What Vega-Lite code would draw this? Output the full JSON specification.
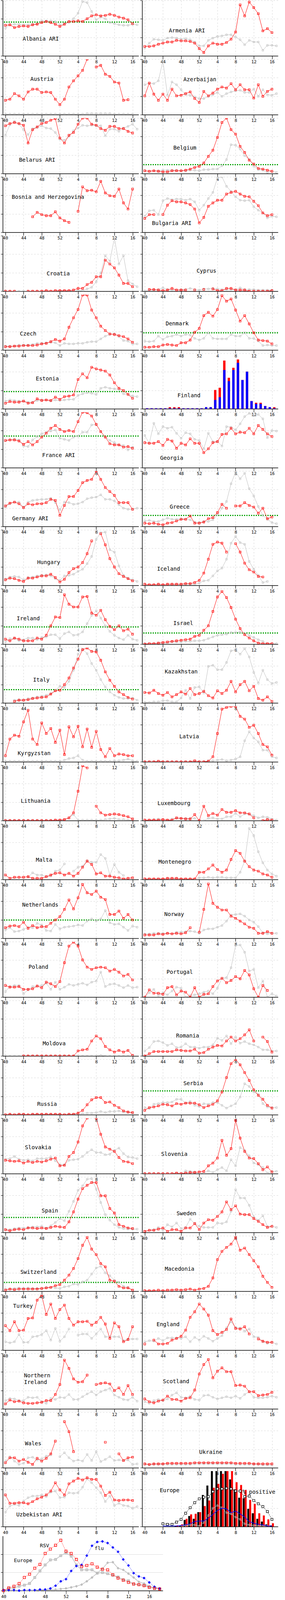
{
  "$schema": "https://vega.github.io/schema/vega-lite/v6.json",
  "padding": {"left": 1, "top": 0, "right": 0, "bottom": 0},
  "config": {
    "view": {"stroke": null},
    "font": "DejaVu Sans Mono",
    "header": {"labels": false, "title": null, "labelFontSize": 0, "labelPadding": 0, "titlePadding": 0},
    "axis": {"domainColor": "#000", "tickColor": "#000", "labelColor": "#000", "labelFont": "DejaVu Sans Mono", "labelFontSize": 11, "gridColor": "#d6d6d6", "gridDash": [4, 4]}
  },
  "vconcat": [
    {
      "data": {"values": [
        {"c":"AL","lx":3.8,"ly":30,"t":"Albania  ARI","th":61},
        {"c":"AM","lx":5.3,"ly":45,"t":"Armenia  ARI"},
        {"c":"AT","lx":5.5,"ly":64,"t":"Austria"},
        {"c":"AZ","lx":8.5,"ly":63,"t":"Azerbaijan"},
        {"c":"BY","lx":3,"ly":24,"t":"Belarus  ARI"},
        {"c":"BE","lx":6.3,"ly":46,"t":"Belgium","th":16},
        {"c":"BA","lx":1.4,"ly":63,"t":"Bosnia and Herzegovina"},
        {"c":"BG","lx":1.6,"ly":16,"t":"Bulgaria  ARI"},
        {"c":"HR","lx":9.1,"ly":31,"t":"Croatia"},
        {"c":"CY","lx":11.4,"ly":36,"t":"Cyprus"},
        {"c":"CZ","lx":3.2,"ly":29,"t":"Czech"},
        {"c":"DK","lx":4.6,"ly":47,"t":"Denmark","th":31},
        {"c":"EE","lx":6.7,"ly":54,"t":"Estonia","th":31},
        {"c":"FI","lx":7.2,"ly":24,"t":"Finland"},
        {"c":"FR","lx":8.1,"ly":22,"t":"France  ARI","th":57},
        {"c":"GE","lx":3.4,"ly":17,"t":"Georgia"},
        {"c":"DE","lx":1.5,"ly":14,"t":"Germany  ARI"},
        {"c":"GR","lx":5.5,"ly":35,"t":"Greece","th":20},
        {"c":"HU","lx":7,"ly":41,"t":"Hungary"},
        {"c":"IS","lx":2.7,"ly":29,"t":"Iceland"},
        {"c":"IE","lx":2.5,"ly":46,"t":"Ireland","th":31},
        {"c":"IL","lx":6.3,"ly":37,"t":"Israel","th":20},
        {"c":"IT","lx":6.1,"ly":41,"t":"Italy","th":24},
        {"c":"KZ","lx":4.4,"ly":56,"t":"Kazakhstan"},
        {"c":"KG","lx":2.7,"ly":15,"t":"Kyrgyzstan"},
        {"c":"LV","lx":7.6,"ly":45,"t":"Latvia"},
        {"c":"LT","lx":3.4,"ly":35,"t":"Lithuania"},
        {"c":"LU","lx":2.8,"ly":31,"t":"Luxembourg"},
        {"c":"MT","lx":6.7,"ly":35,"t":"Malta"},
        {"c":"ME","lx":3,"ly":31,"t":"Montenegro"},
        {"c":"NL","lx":3.7,"ly":60,"t":"Netherlands","th":33},
        {"c":"NO","lx":4.3,"ly":43,"t":"Norway"},
        {"c":"PL","lx":5.1,"ly":54,"t":"Poland"},
        {"c":"PT","lx":4.8,"ly":45,"t":"Portugal"},
        {"c":"MD","lx":8.2,"ly":22,"t":"Moldova"},
        {"c":"RO","lx":6.9,"ly":36,"t":"Romania"},
        {"c":"RU","lx":7,"ly":19,"t":"Russia"},
        {"c":"RS","lx":8.5,"ly":56,"t":"Serbia","th":43},
        {"c":"SK","lx":4.3,"ly":47,"t":"Slovakia"},
        {"c":"SI","lx":3.6,"ly":35,"t":"Slovenia"},
        {"c":"ES","lx":8,"ly":39,"t":"Spain","th":27},
        {"c":"SE","lx":7,"ly":34,"t":"Sweden"},
        {"c":"CH","lx":3.3,"ly":34,"t":"Switzerland","th":16},
        {"c":"MK","lx":4.4,"ly":40,"t":"Macedonia"},
        {"c":"TR","lx":1.7,"ly":79,"t":"Turkey"},
        {"c":"EN","lx":2.6,"ly":46,"t":"England"},
        {"c":"NI","lx":4.1,"ly":60,"t":"Northern\nIreland"},
        {"c":"SC","lx":4,"ly":49,"t":"Scotland"},
        {"c":"WA","lx":4.3,"ly":43,"t":"Wales"},
        {"c":"UA","lx":12,"ly":28,"t":"Ukraine"},
        {"c":"UZ","lx":2.4,"ly":21,"t":"Uzbekistan  ARI"},
        {"c":"EU","lx":3.3,"ly":65,"t":"Europe"},
        {"c":"EU","lx":21.5,"ly":62,"t":"% positive"},

        {"c":"AL","i":0,"r":55,"g":50},{"c":"AL","i":1,"r":56,"g":56},{"c":"AL","i":2,"r":51,"g":57},{"c":"AL","i":3,"r":53,"g":57},{"c":"AL","i":4,"r":54,"g":56},{"c":"AL","i":5,"r":53,"g":56},{"c":"AL","i":6,"r":56,"g":57},{"c":"AL","i":7,"r":57,"g":58},{"c":"AL","i":8,"r":60,"g":63},{"c":"AL","i":9,"r":62,"g":63},{"c":"AL","i":10,"r":60,"g":63},{"c":"AL","i":11,"r":57,"g":62},{"c":"AL","i":12,"r":53,"g":56},{"c":"AL","i":13,"r":57,"g":58},{"c":"AL","i":14,"r":62,"g":60},{"c":"AL","i":15,"r":62,"g":67},{"c":"AL","i":16,"r":63,"g":77},{"c":"AL","i":17,"r":62,"g":98},{"c":"AL","i":18,"r":67,"g":96},{"c":"AL","i":19,"r":72,"g":80},{"c":"AL","i":20,"r":74,"g":65},{"c":"AL","i":21,"r":72,"g":70},{"c":"AL","i":22,"r":73,"g":67},{"c":"AL","i":23,"r":75,"g":60},{"c":"AL","i":24,"r":73,"g":58},{"c":"AL","i":25,"r":70,"g":56},{"c":"AL","i":26,"r":68,"g":55},{"c":"AL","i":27,"r":65,"g":55},{"c":"AL","i":28,"r":58,"g":57},{"c":"AL","i":29,"g":56},

        {"c":"AM","i":0,"r":17,"g":14},{"c":"AM","i":1,"r":17,"g":23},{"c":"AM","i":2,"r":18,"g":30},{"c":"AM","i":3,"r":21,"g":29},{"c":"AM","i":4,"r":23,"g":28},{"c":"AM","i":5,"r":25,"g":32},{"c":"AM","i":6,"r":25,"g":33},{"c":"AM","i":7,"r":28,"g":32},{"c":"AM","i":8,"r":27,"g":30},{"c":"AM","i":9,"r":27,"g":31},{"c":"AM","i":10,"r":26,"g":29},{"c":"AM","i":11,"r":23,"g":25},{"c":"AM","i":12,"r":13,"g":18},{"c":"AM","i":13,"r":6,"g":18},{"c":"AM","i":14,"r":18,"g":28},{"c":"AM","i":15,"r":23,"g":32},{"c":"AM","i":16,"r":21,"g":35},{"c":"AM","i":17,"r":21,"g":36},{"c":"AM","i":18,"r":24,"g":38},{"c":"AM","i":19,"r":30,"g":38},{"c":"AM","i":20,"r":43,"g":34},{"c":"AM","i":21,"r":92,"g":29},{"c":"AM","i":22,"r":72,"g":20},{"c":"AM","i":23,"r":97,"g":28},{"c":"AM","i":24,"r":87,"g":25},{"c":"AM","i":25,"r":76,"g":25},{"c":"AM","i":26,"r":45,"g":10},{"c":"AM","i":27,"r":49,"g":19},{"c":"AM","i":28,"r":42,"g":19},{"c":"AM","i":29,"g":18},

        {"c":"AT","i":0,"r":26,"g":1},{"c":"AT","i":1,"r":28,"g":1},{"c":"AT","i":2,"r":38,"g":1},{"c":"AT","i":3,"r":34,"g":1},{"c":"AT","i":4,"r":28,"g":1},{"c":"AT","i":5,"r":41,"g":1},{"c":"AT","i":6,"r":46,"g":1},{"c":"AT","i":7,"r":46,"g":1},{"c":"AT","i":8,"r":40,"g":1},{"c":"AT","i":9,"r":41,"g":1},{"c":"AT","i":10,"r":40,"g":1},{"c":"AT","i":11,"r":28,"g":1},{"c":"AT","i":12,"r":18,"g":1},{"c":"AT","i":13,"r":28,"g":1},{"c":"AT","i":14,"r":50,"g":1},{"c":"AT","i":15,"r":61,"g":1},{"c":"AT","i":16,"r":70,"g":1},{"c":"AT","i":17,"r":80,"g":1},{"c":"AT","i":18,"r":100,"g":2},{"c":"AT","i":19,"g":2},{"c":"AT","i":20,"r":86,"g":2},{"c":"AT","i":21,"r":89,"g":2},{"c":"AT","i":22,"r":73,"g":2},{"c":"AT","i":23,"r":69,"g":2},{"c":"AT","i":24,"r":59,"g":1},{"c":"AT","i":25,"r":57,"g":1},{"c":"AT","i":26,"r":26,"g":1},{"c":"AT","i":27,"r":27,"g":1},{"c":"AT","i":28,"g":1},

        {"c":"AZ","i":0,"r":34,"g":54},{"c":"AZ","i":1,"r":57,"g":57},{"c":"AZ","i":2,"r":37,"g":56},{"c":"AZ","i":3,"r":26,"g":61},{"c":"AZ","i":4,"r":37,"g":97},{"c":"AZ","i":5,"r":26,"g":35},{"c":"AZ","i":6,"r":46,"g":59},{"c":"AZ","i":7,"r":34,"g":54},{"c":"AZ","i":8,"r":35,"g":45},{"c":"AZ","i":9,"r":38,"g":36},{"c":"AZ","i":10,"r":41,"g":35},{"c":"AZ","i":11,"r":29,"g":32},{"c":"AZ","i":12,"r":22,"g":29},{"c":"AZ","i":13,"r":42,"g":29},{"c":"AZ","i":14,"r":34,"g":33},{"c":"AZ","i":15,"r":39,"g":36},{"c":"AZ","i":16,"r":46,"g":40},{"c":"AZ","i":17,"r":50,"g":33},{"c":"AZ","i":18,"r":48,"g":38},{"c":"AZ","i":19,"r":56,"g":41},{"c":"AZ","i":20,"r":45,"g":43},{"c":"AZ","i":21,"r":54,"g":44},{"c":"AZ","i":22,"r":45,"g":40},{"c":"AZ","i":23,"r":45,"g":40},{"c":"AZ","i":24,"r":30,"g":46},{"c":"AZ","i":25,"r":54,"g":33},{"c":"AZ","i":26,"r":33,"g":45},{"c":"AZ","i":27,"r":42,"g":36},{"c":"AZ","i":28,"r":46,"g":35},{"c":"AZ","i":29,"g":38},

        {"c":"BY","i":0,"r":86,"g":69},{"c":"BY","i":1,"r":90,"g":88},{"c":"BY","i":2,"r":92,"g":94},{"c":"BY","i":3,"r":90,"g":89},{"c":"BY","i":4,"r":87,"g":79},{"c":"BY","i":5,"r":55,"g":70},{"c":"BY","i":6,"r":79,"g":81},{"c":"BY","i":7,"r":84,"g":83},{"c":"BY","i":8,"r":90,"g":86},{"c":"BY","i":9,"r":92,"g":82},{"c":"BY","i":10,"r":96,"g":81},{"c":"BY","i":11,"r":99,"g":74},{"c":"BY","i":12,"r":64,"g":62},{"c":"BY","i":13,"r":55,"g":60},{"c":"BY","i":14,"r":69,"g":67},{"c":"BY","i":15,"r":74,"g":77},{"c":"BY","i":16,"r":89,"g":82},{"c":"BY","i":17,"r":100,"g":87},{"c":"BY","i":18,"r":100,"g":86},{"c":"BY","i":19,"r":89,"g":87},{"c":"BY","i":20,"r":87,"g":86},{"c":"BY","i":21,"r":81,"g":86},{"c":"BY","i":22,"r":78,"g":68},{"c":"BY","i":23,"r":85,"g":80},{"c":"BY","i":24,"r":85,"g":80},{"c":"BY","i":25,"r":81,"g":76},{"c":"BY","i":26,"r":81,"g":82},{"c":"BY","i":27,"r":76,"g":85},{"c":"BY","i":28,"r":73,"g":89},{"c":"BY","i":29,"g":80},

        {"c":"BE","i":0,"r":5,"g":5},{"c":"BE","i":1,"r":4,"g":4},{"c":"BE","i":2,"r":5,"g":5},{"c":"BE","i":3,"r":4,"g":5},{"c":"BE","i":4,"r":3,"g":6},{"c":"BE","i":5,"r":3,"g":6},{"c":"BE","i":6,"r":5,"g":6},{"c":"BE","i":7,"r":5,"g":6},{"c":"BE","i":8,"r":5,"g":5},{"c":"BE","i":9,"r":6,"g":5},{"c":"BE","i":10,"r":8,"g":6},{"c":"BE","i":11,"r":11,"g":6},{"c":"BE","i":12,"r":13,"g":5},{"c":"BE","i":13,"r":19,"g":7},{"c":"BE","i":14,"r":31,"g":7},{"c":"BE","i":15,"r":42,"g":8},{"c":"BE","i":16,"r":65,"g":8},{"c":"BE","i":17,"r":92,"g":14},{"c":"BE","i":18,"r":100,"g":25},{"c":"BE","i":19,"r":79,"g":52},{"c":"BE","i":20,"r":71,"g":51},{"c":"BE","i":21,"r":49,"g":44},{"c":"BE","i":22,"r":38,"g":32},{"c":"BE","i":23,"r":24,"g":26},{"c":"BE","i":24,"r":17,"g":13},{"c":"BE","i":25,"r":9,"g":7},{"c":"BE","i":26,"r":8,"g":6},{"c":"BE","i":27,"r":6,"g":2},{"c":"BE","i":28,"r":4,"g":4},{"c":"BE","i":29,"g":2},

        {"c":"BA","i":6,"r":28},{"c":"BA","i":7,"r":36},{"c":"BA","i":8,"r":32},{"c":"BA","i":9,"r":30},{"c":"BA","i":10,"r":30},{"c":"BA","i":11,"r":37},{"c":"BA","i":12,"r":26},{"c":"BA","i":13,"r":21},{"c":"BA","i":14,"r":18},{"c":"BA","i":15},{"c":"BA","i":16,"r":38},{"c":"BA","i":17,"r":82},{"c":"BA","i":18,"r":75},{"c":"BA","i":19,"r":76},{"c":"BA","i":20,"r":73},{"c":"BA","i":21,"r":92},{"c":"BA","i":22,"r":71},{"c":"BA","i":23,"r":66},{"c":"BA","i":24,"r":65},{"c":"BA","i":25,"r":78},{"c":"BA","i":26,"r":53},{"c":"BA","i":27,"r":42},{"c":"BA","i":28,"r":78},

        {"c":"BG","i":0,"r":25,"g":29},{"c":"BG","i":1,"r":32,"g":39},{"c":"BG","i":2,"r":32,"g":40},{"c":"BG","i":3,"g":32},{"c":"BG","i":4,"r":32,"g":57},{"c":"BG","i":5,"r":49,"g":61},{"c":"BG","i":6,"r":57,"g":59},{"c":"BG","i":7,"r":55,"g":60},{"c":"BG","i":8,"r":55,"g":60},{"c":"BG","i":9,"r":53,"g":58},{"c":"BG","i":10,"r":50,"g":60},{"c":"BG","i":11,"r":42,"g":55},{"c":"BG","i":12,"r":17,"g":40},{"c":"BG","i":13,"r":27,"g":49},{"c":"BG","i":14,"r":47,"g":61},{"c":"BG","i":15,"r":53,"g":72},{"c":"BG","i":16,"r":58,"g":98},{"c":"BG","i":17,"r":58,"g":100},{"c":"BG","i":18,"r":69,"g":83},{"c":"BG","i":19,"r":72,"g":74},{"c":"BG","i":20,"r":74,"g":64},{"c":"BG","i":21,"r":69,"g":58},{"c":"BG","i":22,"r":65,"g":57},{"c":"BG","i":23,"r":64,"g":58},{"c":"BG","i":24,"r":56,"g":46},{"c":"BG","i":25,"r":48,"g":40},{"c":"BG","i":26,"r":35,"g":35},{"c":"BG","i":27,"r":30,"g":26},{"c":"BG","i":28,"r":32,"g":29},{"c":"BG","i":29,"g":28},

        {"c":"HR","i":0,"r":0,"g":0},{"c":"HR","i":1,"r":0,"g":0},{"c":"HR","i":2,"r":0,"g":0},{"c":"HR","i":3,"g":0},{"c":"HR","i":4,"g":0},{"c":"HR","i":5,"r":0,"g":0},{"c":"HR","i":6,"r":0,"g":0},{"c":"HR","i":7,"r":0,"g":0},{"c":"HR","i":8,"r":0,"g":0},{"c":"HR","i":9,"r":1,"g":0},{"c":"HR","i":10,"r":0,"g":0},{"c":"HR","i":11,"r":1,"g":0},{"c":"HR","i":12,"r":1,"g":1},{"c":"HR","i":13,"r":1,"g":1},{"c":"HR","i":14,"r":1,"g":1},{"c":"HR","i":15,"r":2,"g":0},{"c":"HR","i":16,"r":5,"g":1},{"c":"HR","i":17,"r":5,"g":1},{"c":"HR","i":18,"r":12,"g":4},{"c":"HR","i":19,"r":16,"g":7},{"c":"HR","i":20,"r":26,"g":17},{"c":"HR","i":21,"r":26,"g":33},{"c":"HR","i":22,"r":56,"g":64},{"c":"HR","i":23,"r":49,"g":54},{"c":"HR","i":24,"r":42,"g":96},{"c":"HR","i":25,"r":29,"g":49},{"c":"HR","i":26,"r":14,"g":64},{"c":"HR","i":27,"r":14,"g":19},{"c":"HR","i":28,"r":8,"g":13},{"c":"HR","i":29,"g":8},

        {"c":"CY","i":0,"g":0},{"c":"CY","i":1,"r":3,"g":2},{"c":"CY","i":2,"r":3,"g":2},{"c":"CY","i":3,"r":2,"g":3},{"c":"CY","i":4,"r":1,"g":6},{"c":"CY","i":5,"r":2,"g":3},{"c":"CY","i":6,"r":5,"g":2},{"c":"CY","i":7,"r":2,"g":2},{"c":"CY","i":8,"r":2,"g":3},{"c":"CY","i":9,"r":2,"g":3},{"c":"CY","i":10,"g":5},{"c":"CY","i":11,"r":2,"g":3},{"c":"CY","i":12,"g":2},{"c":"CY","i":13,"r":3,"g":4},{"c":"CY","i":14,"g":4},{"c":"CY","i":15,"r":4,"g":5},{"c":"CY","i":16,"r":1,"g":4},{"c":"CY","i":17,"r":1,"g":3},{"c":"CY","i":18,"r":5,"g":3},{"c":"CY","i":19,"r":5,"g":3},{"c":"CY","i":20,"r":2,"g":3},{"c":"CY","i":21,"r":2,"g":6},{"c":"CY","i":22,"r":2,"g":3},{"c":"CY","i":23,"r":0,"g":3},{"c":"CY","i":24,"r":0,"g":3},{"c":"CY","i":25,"r":0,"g":2},{"c":"CY","i":26,"r":0,"g":2},{"c":"CY","i":27,"r":0,"g":2},{"c":"CY","i":28,"r":1,"g":2},

        {"c":"CZ","i":0,"r":6,"g":7},{"c":"CZ","i":1,"r":6,"g":7},{"c":"CZ","i":2,"r":7,"g":7},{"c":"CZ","i":3,"r":7,"g":9},{"c":"CZ","i":4,"r":8,"g":9},{"c":"CZ","i":5,"r":8,"g":9},{"c":"CZ","i":6,"r":8,"g":10},{"c":"CZ","i":7,"r":9,"g":12},{"c":"CZ","i":8,"r":11,"g":12},{"c":"CZ","i":9,"r":12,"g":13},{"c":"CZ","i":10,"r":15,"g":14},{"c":"CZ","i":11,"r":19,"g":13},{"c":"CZ","i":12,"r":16,"g":8},{"c":"CZ","i":13,"r":20,"g":12},{"c":"CZ","i":14,"r":41,"g":11},{"c":"CZ","i":15,"r":58,"g":11},{"c":"CZ","i":16,"r":73,"g":12},{"c":"CZ","i":17,"r":99,"g":12},{"c":"CZ","i":18,"r":99,"g":14},{"c":"CZ","i":19,"r":72,"g":15},{"c":"CZ","i":20,"r":58,"g":15},{"c":"CZ","i":21,"r":43,"g":20},{"c":"CZ","i":22,"r":35,"g":25},{"c":"CZ","i":23,"r":29,"g":28},{"c":"CZ","i":24,"r":28,"g":29},{"c":"CZ","i":25,"r":26,"g":24},{"c":"CZ","i":26,"r":24,"g":17},{"c":"CZ","i":27,"r":20,"g":16},{"c":"CZ","i":28,"r":14,"g":11},{"c":"CZ","i":29,"g":11},

        {"c":"DK","i":0,"r":5,"g":16},{"c":"DK","i":1,"r":5,"g":15},{"c":"DK","i":2,"r":6,"g":16},{"c":"DK","i":3,"r":6,"g":25},{"c":"DK","i":4,"r":9,"g":19},{"c":"DK","i":5,"r":10,"g":24},{"c":"DK","i":6,"r":9,"g":25},{"c":"DK","i":7,"r":8,"g":28},{"c":"DK","i":8,"r":13,"g":25},{"c":"DK","i":9,"r":13,"g":28},{"c":"DK","i":10,"r":18,"g":27},{"c":"DK","i":11,"r":32,"g":21},{"c":"DK","i":12,"r":39,"g":18},{"c":"DK","i":13,"r":62,"g":21},{"c":"DK","i":14,"r":68,"g":31},{"c":"DK","i":15,"r":61,"g":21},{"c":"DK","i":16,"r":73,"g":20},{"c":"DK","i":17,"r":98,"g":20},{"c":"DK","i":18,"r":88,"g":20},{"c":"DK","i":19,"r":92,"g":28},{"c":"DK","i":20,"r":72,"g":25},{"c":"DK","i":21,"r":52,"g":25},{"c":"DK","i":22,"r":62,"g":31},{"c":"DK","i":23,"r":47,"g":21},{"c":"DK","i":24,"r":31,"g":21},{"c":"DK","i":25,"r":18,"g":16},{"c":"DK","i":26,"r":17,"g":8},{"c":"DK","i":27,"r":16,"g":9},{"c":"DK","i":28,"r":11,"g":8},{"c":"DK","i":29,"g":8},

        {"c":"EE","i":0,"r":10,"g":14},{"c":"EE","i":1,"r":13,"g":16},{"c":"EE","i":2,"r":12,"g":15},{"c":"EE","i":3,"r":12,"g":14},{"c":"EE","i":4,"r":14,"g":14},{"c":"EE","i":5,"r":10,"g":12},{"c":"EE","i":6,"r":11,"g":12},{"c":"EE","i":7,"r":18,"g":15},{"c":"EE","i":8,"r":15,"g":16},{"c":"EE","i":9,"r":16,"g":16},{"c":"EE","i":10,"r":15,"g":14},{"c":"EE","i":11,"r":21,"g":16},{"c":"EE","i":12,"r":17,"g":15},{"c":"EE","i":13,"r":22,"g":16},{"c":"EE","i":14,"r":23,"g":17},{"c":"EE","i":15,"r":25,"g":17},{"c":"EE","i":16,"r":53,"g":24},{"c":"EE","i":17,"r":63,"g":27},{"c":"EE","i":18,"r":56,"g":29},{"c":"EE","i":19,"r":75,"g":28},{"c":"EE","i":20,"r":72,"g":26},{"c":"EE","i":21,"r":70,"g":37},{"c":"EE","i":22,"r":68,"g":39},{"c":"EE","i":23,"r":61,"g":37},{"c":"EE","i":24,"r":47,"g":36},{"c":"EE","i":25,"r":37,"g":35},{"c":"EE","i":26,"r":33,"g":27},{"c":"EE","i":27,"r":26,"g":26},{"c":"EE","i":28,"r":19,"g":23},{"c":"EE","i":29,"g":22},

        {"c":"FI","i":0,"fb":1,"ft":1},{"c":"FI","i":1,"fb":1,"ft":1},{"c":"FI","i":2,"fb":1,"ft":1},{"c":"FI","i":3,"fb":1,"ft":1},{"c":"FI","i":4,"fb":1,"ft":1},{"c":"FI","i":5,"fb":1,"ft":3},{"c":"FI","i":6,"fb":1,"ft":3},{"c":"FI","i":7,"fb":1,"ft":3},{"c":"FI","i":8,"fb":1,"ft":1},{"c":"FI","i":9,"fb":1,"ft":1},{"c":"FI","i":10,"fb":1,"ft":1},{"c":"FI","i":11,"fb":1,"ft":1},{"c":"FI","i":12,"fb":1,"ft":1},{"c":"FI","i":13,"fb":3,"ft":3},{"c":"FI","i":14,"fb":3,"ft":3},{"c":"FI","i":15,"fb":16,"ft":34},{"c":"FI","i":16,"fb":21,"ft":38},{"c":"FI","i":17,"fb":70,"ft":87},{"c":"FI","i":18,"fb":50,"ft":56},{"c":"FI","i":19,"fb":70,"ft":74},{"c":"FI","i":20,"fb":83,"ft":89},{"c":"FI","i":21,"fb":52,"ft":52},{"c":"FI","i":22,"fb":67,"ft":67},{"c":"FI","i":23,"fb":14,"ft":14},{"c":"FI","i":24,"fb":9,"ft":11},{"c":"FI","i":25,"fb":9,"ft":11},{"c":"FI","i":26,"fb":5,"ft":5},{"c":"FI","i":27,"fb":3,"ft":3},{"c":"FI","i":28,"fb":1,"ft":3},

        {"c":"FR","i":0,"r":49,"g":49},{"c":"FR","i":1,"r":50,"g":50},{"c":"FR","i":2,"r":50,"g":51},{"c":"FR","i":3,"r":48,"g":50},{"c":"FR","i":4,"r":42,"g":39},{"c":"FR","i":5,"r":47,"g":38},{"c":"FR","i":6,"r":41,"g":50},{"c":"FR","i":7,"r":47,"g":56},{"c":"FR","i":8,"r":55,"g":61},{"c":"FR","i":9,"r":62,"g":64},{"c":"FR","i":10,"r":71,"g":66},{"c":"FR","i":11,"r":76,"g":68},{"c":"FR","i":12,"r":69,"g":53},{"c":"FR","i":13,"r":65,"g":51},{"c":"FR","i":14,"r":67,"g":49},{"c":"FR","i":15,"r":65,"g":55},{"c":"FR","i":16,"r":83,"g":57},{"c":"FR","i":17,"r":100,"g":64},{"c":"FR","i":18,"r":99,"g":64},{"c":"FR","i":19,"r":93,"g":77},{"c":"FR","i":20,"r":78,"g":78},{"c":"FR","i":21,"r":65,"g":65},{"c":"FR","i":22,"r":55,"g":55},{"c":"FR","i":23,"r":43,"g":49},{"c":"FR","i":24,"r":41,"g":45},{"c":"FR","i":25,"r":41,"g":41},{"c":"FR","i":26,"r":37,"g":40},{"c":"FR","i":27,"r":38,"g":32},{"c":"FR","i":28,"r":35,"g":37},

        {"c":"GE","i":0,"r":45,"g":58},{"c":"GE","i":1,"r":44,"g":44},{"c":"GE","i":2,"r":44,"g":80},{"c":"GE","i":3,"r":47,"g":61},{"c":"GE","i":4,"r":40,"g":74},{"c":"GE","i":5,"r":51,"g":71},{"c":"GE","i":6,"r":48,"g":73},{"c":"GE","i":7,"r":35,"g":62},{"c":"GE","i":8,"r":44,"g":53},{"c":"GE","i":9,"r":41,"g":63},{"c":"GE","i":10,"r":52,"g":61},{"c":"GE","i":11,"r":44,"g":51},{"c":"GE","i":12,"r":44,"g":49},{"c":"GE","i":13,"r":27,"g":34},{"c":"GE","i":14,"r":34,"g":62},{"c":"GE","i":15,"r":45,"g":47},{"c":"GE","i":16,"r":47,"g":47},{"c":"GE","i":17,"r":60,"g":39},{"c":"GE","i":18,"r":61,"g":74},{"c":"GE","i":19,"r":71,"g":73},{"c":"GE","i":20,"r":61,"g":68},{"c":"GE","i":21,"r":64,"g":79},{"c":"GE","i":22,"r":63,"g":92},{"c":"GE","i":23,"r":71,"g":98},{"c":"GE","i":24,"r":61,"g":94},{"c":"GE","i":25,"r":76,"g":96},{"c":"GE","i":26,"r":69,"g":88},{"c":"GE","i":27,"r":61,"g":54},{"c":"GE","i":28,"r":56,"g":67},{"c":"GE","i":29,"g":66},

        {"c":"DE","i":0,"r":37,"g":35},{"c":"DE","i":1,"r":42,"g":41},{"c":"DE","i":2,"r":44,"g":44},{"c":"DE","i":3,"r":41,"g":44},{"c":"DE","i":4,"r":34,"g":35},{"c":"DE","i":5,"r":41,"g":44},{"c":"DE","i":6,"r":39,"g":47},{"c":"DE","i":7,"r":41,"g":48},{"c":"DE","i":8,"r":41,"g":49},{"c":"DE","i":9,"r":43,"g":49},{"c":"DE","i":10,"r":49,"g":51},{"c":"DE","i":11,"r":47,"g":43},{"c":"DE","i":12,"r":20,"g":30},{"c":"DE","i":13,"r":38,"g":44},{"c":"DE","i":14,"r":54,"g":43},{"c":"DE","i":15,"r":54,"g":40},{"c":"DE","i":16,"r":65,"g":41},{"c":"DE","i":17,"r":79,"g":44},{"c":"DE","i":18,"r":83,"g":50},{"c":"DE","i":19,"r":85,"g":52},{"c":"DE","i":20,"r":100,"g":53},{"c":"DE","i":21,"r":85,"g":57},{"c":"DE","i":22,"r":70,"g":49},{"c":"DE","i":23,"r":63,"g":49},{"c":"DE","i":24,"r":56,"g":46},{"c":"DE","i":25,"r":43,"g":39},{"c":"DE","i":26,"r":43,"g":33},{"c":"DE","i":27,"r":43,"g":31},{"c":"DE","i":28,"r":31,"g":31},{"c":"DE","i":29,"g":33},

        {"c":"GR","i":0,"r":6,"g":10},{"c":"GR","i":1,"r":5,"g":11},{"c":"GR","i":2,"r":6,"g":9},{"c":"GR","i":3,"r":4,"g":9},{"c":"GR","i":4,"r":3,"g":12},{"c":"GR","i":5,"r":6,"g":15},{"c":"GR","i":6,"r":7,"g":13},{"c":"GR","i":7,"r":10,"g":13},{"c":"GR","i":8,"r":13,"g":14},{"c":"GR","i":9,"r":13,"g":13},{"c":"GR","i":10,"r":19,"g":12},{"c":"GR","i":11,"r":6,"g":8},{"c":"GR","i":12,"r":6,"g":7},{"c":"GR","i":13,"r":8,"g":9},{"c":"GR","i":14,"r":14,"g":9},{"c":"GR","i":15,"r":16,"g":12},{"c":"GR","i":16,"r":25,"g":21},{"c":"GR","i":17,"r":40,"g":33},{"c":"GR","i":18,"r":33,"g":45},{"c":"GR","i":19,"g":77},{"c":"GR","i":20,"r":37,"g":98},{"c":"GR","i":21,"r":37,"g":86},{"c":"GR","i":22,"r":43,"g":96},{"c":"GR","i":23,"r":38,"g":68},{"c":"GR","i":24,"r":35,"g":55},{"c":"GR","i":25,"r":24,"g":36},{"c":"GR","i":26,"r":33,"g":20},{"c":"GR","i":27,"r":14,"g":13},{"c":"GR","i":28,"r":17,"g":7},{"c":"GR","i":29,"g":5},

        {"c":"HU","i":0,"r":10,"g":11},{"c":"HU","i":1,"r":13,"g":15},{"c":"HU","i":2,"r":12,"g":16},{"c":"HU","i":3,"r":9,"g":15},{"c":"HU","i":4,"r":7,"g":10},{"c":"HU","i":5,"r":13,"g":14},{"c":"HU","i":6,"r":13,"g":15},{"c":"HU","i":7,"r":15,"g":17},{"c":"HU","i":8,"r":17,"g":18},{"c":"HU","i":9,"r":17,"g":19},{"c":"HU","i":10,"r":20,"g":17},{"c":"HU","i":11,"r":14,"g":12},{"c":"HU","i":12,"r":6,"g":9},{"c":"HU","i":13,"r":11,"g":17},{"c":"HU","i":14,"r":23,"g":18},{"c":"HU","i":15,"r":30,"g":20},{"c":"HU","i":16,"r":33,"g":25},{"c":"HU","i":17,"r":41,"g":29},{"c":"HU","i":18,"r":57,"g":39},{"c":"HU","i":19,"r":80,"g":52},{"c":"HU","i":20,"g":83},{"c":"HU","i":21,"r":93,"g":95},{"c":"HU","i":22,"r":73,"g":96},{"c":"HU","i":23,"r":48,"g":64},{"c":"HU","i":24,"r":33,"g":60},{"c":"HU","i":25,"r":21,"g":35},{"c":"HU","i":26,"r":16,"g":18},{"c":"HU","i":27,"r":12,"g":13},{"c":"HU","i":28,"r":8,"g":10},{"c":"HU","i":29,"g":7},

        {"c":"IS","i":0,"r":2,"g":1},{"c":"IS","i":1,"r":1,"g":1},{"c":"IS","i":2,"r":1,"g":1},{"c":"IS","i":3,"r":2,"g":1},{"c":"IS","i":4,"r":1,"g":1},{"c":"IS","i":5,"r":2,"g":1},{"c":"IS","i":6,"r":2,"g":1},{"c":"IS","i":7,"r":2,"g":1},{"c":"IS","i":8,"r":2,"g":1},{"c":"IS","i":9,"r":3,"g":2},{"c":"IS","i":10,"r":3,"g":2},{"c":"IS","i":11,"r":5,"g":2},{"c":"IS","i":12,"r":9,"g":4},{"c":"IS","i":13,"r":22,"g":8},{"c":"IS","i":14,"r":47,"g":9},{"c":"IS","i":15,"r":74,"g":17},{"c":"IS","i":16,"r":78,"g":26},{"c":"IS","i":17,"r":76,"g":31},{"c":"IS","i":18,"r":60,"g":47},{"c":"IS","i":19,"g":76},{"c":"IS","i":20,"r":75,"g":88},{"c":"IS","i":21,"r":60,"g":77},{"c":"IS","i":22,"r":40,"g":74},{"c":"IS","i":23,"r":28,"g":43},{"c":"IS","i":24,"r":24,"g":29},{"c":"IS","i":25,"r":16,"g":18},{"c":"IS","i":26,"r":15,"g":5},{"c":"IS","i":27,"g":7},

        {"c":"IE","i":0,"r":9,"g":4},{"c":"IE","i":1,"r":6,"g":10},{"c":"IE","i":2,"r":11,"g":10},{"c":"IE","i":3,"r":9,"g":6},{"c":"IE","i":4,"r":6,"g":8},{"c":"IE","i":5,"r":6,"g":11},{"c":"IE","i":6,"r":6,"g":11},{"c":"IE","i":7,"r":11,"g":8},{"c":"IE","i":8,"r":9,"g":12},{"c":"IE","i":9,"r":16,"g":13},{"c":"IE","i":10,"r":33,"g":17},{"c":"IE","i":11,"r":49,"g":17},{"c":"IE","i":12,"r":48,"g":10},{"c":"IE","i":13,"r":89,"g":19},{"c":"IE","i":14,"r":72,"g":22},{"c":"IE","i":15,"r":67,"g":16},{"c":"IE","i":16,"r":67,"g":17},{"c":"IE","i":17,"r":85,"g":22},{"c":"IE","i":18,"r":86,"g":37},{"c":"IE","i":19,"r":56,"g":52},{"c":"IE","i":20,"r":52,"g":60},{"c":"IE","i":21,"r":61,"g":47},{"c":"IE","i":22,"r":44,"g":33},{"c":"IE","i":23,"r":32,"g":23},{"c":"IE","i":24,"r":26,"g":16},{"c":"IE","i":25,"r":33,"g":11},{"c":"IE","i":26,"r":24,"g":8},{"c":"IE","i":27,"r":27,"g":16},{"c":"IE","i":28,"r":18,"g":9},{"c":"IE","i":29,"g":7},

        {"c":"IL","i":0,"r":0,"g":1},{"c":"IL","i":1,"r":1,"g":1},{"c":"IL","i":2,"r":1,"g":1},{"c":"IL","i":3,"r":2,"g":1},{"c":"IL","i":4,"r":3,"g":1},{"c":"IL","i":5,"r":4,"g":2},{"c":"IL","i":6,"r":5,"g":4},{"c":"IL","i":7,"r":6,"g":4},{"c":"IL","i":8,"r":7,"g":4},{"c":"IL","i":9,"r":8,"g":5},{"c":"IL","i":10,"r":9,"g":5},{"c":"IL","i":11,"r":14,"g":6},{"c":"IL","i":12,"r":16,"g":6},{"c":"IL","i":13,"r":25,"g":7},{"c":"IL","i":14,"r":33,"g":10},{"c":"IL","i":15,"r":59,"g":13},{"c":"IL","i":16,"r":85,"g":16},{"c":"IL","i":17,"r":95,"g":17},{"c":"IL","i":18,"r":84,"g":18},{"c":"IL","i":19,"r":66,"g":21},{"c":"IL","i":20,"r":45,"g":21},{"c":"IL","i":21,"r":28,"g":22},{"c":"IL","i":22,"r":17,"g":19},{"c":"IL","i":23,"r":11,"g":16},{"c":"IL","i":24,"r":6,"g":12},{"c":"IL","i":25,"r":2,"g":8},{"c":"IL","i":26,"r":1,"g":5},{"c":"IL","i":27,"r":1,"g":1},{"c":"IL","i":28,"r":1,"g":1},{"c":"IL","i":29,"g":1},

        {"c":"IT","i":2,"r":3,"g":5},{"c":"IT","i":3,"r":5,"g":6},{"c":"IT","i":4,"r":5,"g":5},{"c":"IT","i":5,"r":6,"g":8},{"c":"IT","i":6,"r":8,"g":9},{"c":"IT","i":7,"r":9,"g":11},{"c":"IT","i":8,"r":10,"g":12},{"c":"IT","i":9,"r":11,"g":14},{"c":"IT","i":10,"r":16,"g":17},{"c":"IT","i":11,"r":22,"g":23},{"c":"IT","i":12,"r":23,"g":30},{"c":"IT","i":13,"r":33,"g":28},{"c":"IT","i":14,"r":45,"g":39},{"c":"IT","i":15,"r":63,"g":59},{"c":"IT","i":16,"r":79,"g":88},{"c":"IT","i":17,"r":96,"g":97},{"c":"IT","i":18,"r":99,"g":89},{"c":"IT","i":19,"r":93,"g":71},{"c":"IT","i":20,"r":92,"g":59},{"c":"IT","i":21,"r":77,"g":42},{"c":"IT","i":22,"r":56,"g":29},{"c":"IT","i":23,"r":41,"g":20},{"c":"IT","i":24,"r":30,"g":14},{"c":"IT","i":25,"r":20,"g":10},{"c":"IT","i":26,"r":15,"g":8},{"c":"IT","i":27,"r":10,"g":8},{"c":"IT","i":28,"r":7,"g":9},{"c":"IT","i":29,"g":5},

        {"c":"KZ","i":0,"r":19,"g":1},{"c":"KZ","i":1,"r":18,"g":1},{"c":"KZ","i":2,"r":23,"g":2},{"c":"KZ","i":3,"r":17,"g":2},{"c":"KZ","i":4,"r":14,"g":4},{"c":"KZ","i":5,"r":19,"g":4},{"c":"KZ","i":6,"r":11,"g":2},{"c":"KZ","i":7,"r":15,"g":2},{"c":"KZ","i":8,"r":20,"g":9},{"c":"KZ","i":9,"r":16,"g":23},{"c":"KZ","i":10,"r":26,"g":8},{"c":"KZ","i":11,"r":15,"g":28},{"c":"KZ","i":12,"r":17,"g":29},{"c":"KZ","i":13,"r":21,"g":18},{"c":"KZ","i":14,"r":13,"g":66},{"c":"KZ","i":15,"r":9,"g":68},{"c":"KZ","i":16,"r":22,"g":60},{"c":"KZ","i":17,"r":17,"g":60},{"c":"KZ","i":18,"r":23,"g":73},{"c":"KZ","i":19,"r":39,"g":94},{"c":"KZ","i":20,"r":20,"g":96},{"c":"KZ","i":21,"r":33,"g":88},{"c":"KZ","i":22,"r":39,"g":98},{"c":"KZ","i":23,"r":22,"g":83},{"c":"KZ","i":24,"r":30,"g":55},{"c":"KZ","i":25,"r":8,"g":36},{"c":"KZ","i":26,"r":5,"g":59},{"c":"KZ","i":27,"r":11,"g":42},{"c":"KZ","i":28,"r":3,"g":35},{"c":"KZ","i":29,"g":37},

        {"c":"KG","i":0,"r":11,"g":1},{"c":"KG","i":1,"r":41,"g":1},{"c":"KG","i":2,"r":48,"g":1},{"c":"KG","i":3,"r":46,"g":1},{"c":"KG","i":4,"r":72,"g":1},{"c":"KG","i":5,"r":93,"g":1},{"c":"KG","i":6,"r":41,"g":1},{"c":"KG","i":7,"r":31,"g":1},{"c":"KG","i":8,"r":70,"g":1},{"c":"KG","i":9,"r":51,"g":1},{"c":"KG","i":10,"r":60,"g":1},{"c":"KG","i":11,"r":35,"g":1},{"c":"KG","i":12,"r":57,"g":1},{"c":"KG","i":13,"r":13,"g":3},{"c":"KG","i":14,"r":63,"g":6},{"c":"KG","i":15,"r":45,"g":7},{"c":"KG","i":16,"r":64,"g":11},{"c":"KG","i":17,"r":27,"g":3},{"c":"KG","i":18,"r":59,"g":1},{"c":"KG","i":19,"r":26,"g":1},{"c":"KG","i":20,"r":55,"g":1},{"c":"KG","i":21,"r":22,"g":1},{"c":"KG","i":22,"r":9,"g":1},{"c":"KG","i":23,"r":24,"g":1},{"c":"KG","i":24,"r":11,"g":2},{"c":"KG","i":25,"r":14,"g":2},{"c":"KG","i":26,"r":13,"g":3},{"c":"KG","i":27,"r":11,"g":5},{"c":"KG","i":28,"r":11,"g":2},{"c":"KG","i":29,"g":1},

        {"c":"LV","i":0,"r":0,"g":0},{"c":"LV","i":1,"r":0,"g":0},{"c":"LV","i":2,"r":0,"g":0},{"c":"LV","i":3,"r":1,"g":0},{"c":"LV","i":4,"r":0,"g":0},{"c":"LV","i":5,"r":0,"g":0},{"c":"LV","i":6,"r":0,"g":0},{"c":"LV","i":7,"r":0,"g":0},{"c":"LV","i":8,"r":0,"g":0},{"c":"LV","i":9,"r":0,"g":0},{"c":"LV","i":10,"r":0,"g":0},{"c":"LV","i":11,"r":2,"g":0},{"c":"LV","i":12,"r":0,"g":0},{"c":"LV","i":13,"r":0,"g":0},{"c":"LV","i":14,"r":1,"g":2},{"c":"LV","i":15,"r":9,"g":2},{"c":"LV","i":16,"r":51,"g":3},{"c":"LV","i":17,"r":95,"g":4},{"c":"LV","i":18,"r":98,"g":2},{"c":"LV","i":19,"r":100,"g":3},{"c":"LV","i":20,"r":100,"g":5},{"c":"LV","i":21,"r":82,"g":9},{"c":"LV","i":22,"r":77,"g":38},{"c":"LV","i":23,"r":62,"g":54},{"c":"LV","i":24,"r":66,"g":43},{"c":"LV","i":25,"r":51,"g":36},{"c":"LV","i":26,"r":31,"g":21},{"c":"LV","i":27,"r":27,"g":21},{"c":"LV","i":28,"r":12,"g":9},{"c":"LV","i":29,"g":7},

        {"c":"LT","i":0,"r":0,"g":1},{"c":"LT","i":1,"r":0,"g":1},{"c":"LT","i":2,"r":0,"g":1},{"c":"LT","i":3,"r":0,"g":1},{"c":"LT","i":4,"r":0,"g":1},{"c":"LT","i":5,"r":0,"g":1},{"c":"LT","i":6,"r":0,"g":1},{"c":"LT","i":7,"r":0,"g":1},{"c":"LT","i":8,"r":0,"g":1},{"c":"LT","i":9,"r":0,"g":1},{"c":"LT","i":10,"r":0,"g":1},{"c":"LT","i":11,"r":1,"g":1},{"c":"LT","i":12,"r":1,"g":1},{"c":"LT","i":13,"r":2,"g":1},{"c":"LT","i":14,"r":5,"g":5},{"c":"LT","i":15,"r":14,"g":11},{"c":"LT","i":16,"r":53,"g":1},{"c":"LT","i":17,"r":99,"g":1},{"c":"LT","i":18,"r":95,"g":1},{"c":"LT","i":19,"g":1},{"c":"LT","i":20,"r":26,"g":1},{"c":"LT","i":21,"r":14,"g":1},{"c":"LT","i":22,"r":10,"g":2},{"c":"LT","i":23,"r":11,"g":3},{"c":"LT","i":24,"r":12,"g":4},{"c":"LT","i":25,"r":11,"g":2},{"c":"LT","i":26,"r":9,"g":2},{"c":"LT","i":27,"r":7,"g":1},{"c":"LT","i":28,"r":3,"g":1},

        {"c":"LU","i":0,"r":1,"g":1},{"c":"LU","i":1,"r":1,"g":1},{"c":"LU","i":2,"r":1,"g":2},{"c":"LU","i":3,"r":1,"g":3},{"c":"LU","i":4,"r":2,"g":2},{"c":"LU","i":5,"r":1,"g":1},{"c":"LU","i":6,"r":1,"g":3},{"c":"LU","i":7,"r":5,"g":4},{"c":"LU","i":8,"r":4,"g":4},{"c":"LU","i":9,"r":3,"g":4},{"c":"LU","i":10,"r":3,"g":4},{"c":"LU","i":11,"r":11,"g":4},{"c":"LU","i":12,"r":0,"g":0},{"c":"LU","i":13,"r":26,"g":0},{"c":"LU","i":14,"r":9,"g":4},{"c":"LU","i":15,"r":13,"g":5},{"c":"LU","i":16,"r":10,"g":3},{"c":"LU","i":17,"r":20,"g":3},{"c":"LU","i":18,"r":15,"g":7},{"c":"LU","i":19,"r":15,"g":7},{"c":"LU","i":20,"r":18,"g":13},{"c":"LU","i":21,"r":14,"g":7},{"c":"LU","i":22,"r":14,"g":12},{"c":"LU","i":23,"r":12,"g":12},{"c":"LU","i":24,"r":5,"g":9},{"c":"LU","i":25,"g":5},{"c":"LU","i":26,"r":0,"g":7},{"c":"LU","i":27,"r":2,"g":6},{"c":"LU","i":28,"r":1,"g":3},{"c":"LU","i":29,"g":1},

        {"c":"MT","i":0,"r":8},{"c":"MT","i":1,"r":2},{"c":"MT","i":2,"r":4},{"c":"MT","i":3,"r":4},{"c":"MT","i":4,"r":4},{"c":"MT","i":5,"r":5,"g":4},{"c":"MT","i":6,"r":2,"g":12},{"c":"MT","i":7,"r":2,"g":8},{"c":"MT","i":8,"r":2,"g":8},{"c":"MT","i":9,"r":5,"g":5},{"c":"MT","i":10,"r":8,"g":6},{"c":"MT","i":11,"r":11,"g":15},{"c":"MT","i":12,"r":12,"g":17},{"c":"MT","i":13,"r":8,"g":28},{"c":"MT","i":14,"r":11},{"c":"MT","i":15,"r":6,"g":15},{"c":"MT","i":16,"r":11,"g":22},{"c":"MT","i":17,"r":22,"g":24},{"c":"MT","i":18,"r":33,"g":34},{"c":"MT","i":19,"r":27,"g":31},{"c":"MT","i":20,"r":10,"g":31},{"c":"MT","i":21,"r":12,"g":45},{"c":"MT","i":22,"r":6,"g":38},{"c":"MT","i":23,"r":6,"g":8},{"c":"MT","i":24,"r":4,"g":27},{"c":"MT","i":25,"r":3,"g":13},{"c":"MT","i":26,"r":1,"g":7},{"c":"MT","i":27,"r":2},{"c":"MT","i":28,"r":3},

        {"c":"ME","i":0,"r":1,"g":1},{"c":"ME","i":1,"r":1,"g":1},{"c":"ME","i":2,"r":1,"g":1},{"c":"ME","i":3,"r":1,"g":1},{"c":"ME","i":4,"r":1,"g":1},{"c":"ME","i":5,"r":2,"g":1},{"c":"ME","i":6,"r":2,"g":1},{"c":"ME","i":7,"r":2,"g":1},{"c":"ME","i":8,"r":1,"g":1},{"c":"ME","i":9,"r":1,"g":1},{"c":"ME","i":10,"r":1,"g":1},{"c":"ME","i":11,"r":1,"g":1},{"c":"ME","i":12,"r":13,"g":3},{"c":"ME","i":13,"r":13,"g":3},{"c":"ME","i":14,"r":19,"g":4},{"c":"ME","i":15,"r":26,"g":3},{"c":"ME","i":16,"r":18,"g":4},{"c":"ME","i":17,"r":13,"g":4},{"c":"ME","i":18,"r":17,"g":3},{"c":"ME","i":19,"r":36,"g":3},{"c":"ME","i":20,"r":52,"g":3},{"c":"ME","i":21,"r":47,"g":13},{"c":"ME","i":22,"r":33,"g":33},{"c":"ME","i":23,"r":23,"g":92},{"c":"ME","i":24,"r":17,"g":79},{"c":"ME","i":25,"r":15,"g":50},{"c":"ME","i":26,"r":10,"g":30},{"c":"ME","i":27,"r":8,"g":17},{"c":"ME","i":28,"r":4,"g":10},{"c":"ME","i":29,"g":6},

        {"c":"NL","i":0,"r":19,"g":15},{"c":"NL","i":1,"r":22,"g":19},{"c":"NL","i":2,"r":23,"g":12},{"c":"NL","i":3,"r":21,"g":13},{"c":"NL","i":4,"r":29,"g":16},{"c":"NL","i":5,"r":18,"g":20},{"c":"NL","i":6,"r":23,"g":19},{"c":"NL","i":7,"r":19,"g":27},{"c":"NL","i":8,"r":21,"g":24},{"c":"NL","i":9,"r":21,"g":14},{"c":"NL","i":10,"r":27,"g":13},{"c":"NL","i":11,"r":33,"g":25},{"c":"NL","i":12,"r":39,"g":17},{"c":"NL","i":13,"r":52,"g":20},{"c":"NL","i":14,"r":69,"g":21},{"c":"NL","i":15,"r":53,"g":22},{"c":"NL","i":16,"r":73,"g":24},{"c":"NL","i":17,"r":97,"g":23},{"c":"NL","i":18,"r":82,"g":31},{"c":"NL","i":19,"r":79,"g":35},{"c":"NL","i":20,"r":85,"g":31},{"c":"NL","i":21,"r":74,"g":35},{"c":"NL","i":22,"r":70,"g":50},{"c":"NL","i":23,"r":43,"g":28},{"c":"NL","i":24,"r":43,"g":25},{"c":"NL","i":25,"r":49,"g":26},{"c":"NL","i":26,"r":36,"g":20},{"c":"NL","i":27,"r":43,"g":14},{"c":"NL","i":28,"r":33,"g":22},{"c":"NL","i":29,"g":20},

        {"c":"NO","i":0,"r":6,"g":8},{"c":"NO","i":1,"r":6,"g":8},{"c":"NO","i":2,"r":6,"g":9},{"c":"NO","i":3,"r":8,"g":9},{"c":"NO","i":4,"r":7,"g":9},{"c":"NO","i":5,"r":9,"g":9},{"c":"NO","i":6,"r":8,"g":8},{"c":"NO","i":7,"r":9,"g":11},{"c":"NO","i":8,"r":8,"g":11},{"c":"NO","i":9,"r":10,"g":12},{"c":"NO","i":10,"r":19,"g":13},{"c":"NO","i":11,"g":12},{"c":"NO","i":12,"r":11,"g":9},{"c":"NO","i":13,"r":52,"g":15},{"c":"NO","i":14,"r":98,"g":17},{"c":"NO","i":15,"r":63,"g":17},{"c":"NO","i":16,"r":56,"g":20},{"c":"NO","i":17,"r":51,"g":23},{"c":"NO","i":18,"r":51,"g":31},{"c":"NO","i":19,"r":40,"g":42},{"c":"NO","i":20,"r":36,"g":43},{"c":"NO","i":21,"r":31,"g":44},{"c":"NO","i":22,"r":26,"g":40},{"c":"NO","i":23,"r":20,"g":33},{"c":"NO","i":24,"r":18,"g":29},{"c":"NO","i":25,"r":9,"g":21},{"c":"NO","i":26,"r":9,"g":10},{"c":"NO","i":27,"r":12,"g":8},{"c":"NO","i":28,"r":9,"g":9},{"c":"NO","i":29,"g":9},

        {"c":"PL","i":0,"r":21,"g":10},{"c":"PL","i":1,"r":18,"g":19},{"c":"PL","i":2,"r":18,"g":21},{"c":"PL","i":3,"r":19,"g":21},{"c":"PL","i":4,"r":14,"g":6},{"c":"PL","i":5,"r":14,"g":13},{"c":"PL","i":6,"r":15,"g":19},{"c":"PL","i":7,"r":20,"g":20},{"c":"PL","i":8,"r":17,"g":21},{"c":"PL","i":9,"r":27,"g":25},{"c":"PL","i":10,"r":24,"g":14},{"c":"PL","i":11,"r":19,"g":27},{"c":"PL","i":12,"r":28,"g":14},{"c":"PL","i":13,"r":62,"g":18},{"c":"PL","i":14,"r":92,"g":23},{"c":"PL","i":15,"r":99,"g":21},{"c":"PL","i":16,"r":92,"g":23},{"c":"PL","i":17,"r":67,"g":25},{"c":"PL","i":18,"r":54,"g":22},{"c":"PL","i":19,"r":50,"g":27},{"c":"PL","i":20,"r":53,"g":29},{"c":"PL","i":21,"r":54,"g":45},{"c":"PL","i":22,"r":53,"g":19},{"c":"PL","i":23,"r":47,"g":23},{"c":"PL","i":24,"r":50,"g":24},{"c":"PL","i":25,"r":45,"g":21},{"c":"PL","i":26,"r":38,"g":17},{"c":"PL","i":27,"r":41,"g":21},{"c":"PL","i":28,"r":31,"g":17},{"c":"PL","i":29,"g":18},

        {"c":"PT","i":0,"r":0,"g":0},{"c":"PT","i":1,"r":13,"g":8},{"c":"PT","i":2,"r":7,"g":14},{"c":"PT","i":3,"r":7,"g":3},{"c":"PT","i":4,"r":5,"g":8},{"c":"PT","i":5,"r":17,"g":4},{"c":"PT","i":6,"r":19,"g":11},{"c":"PT","i":7,"r":4,"g":18},{"c":"PT","i":8,"r":11,"g":16},{"c":"PT","i":9,"r":9,"g":0},{"c":"PT","i":10,"r":0,"g":3},{"c":"PT","i":11,"r":17,"g":4},{"c":"PT","i":12,"r":0,"g":6},{"c":"PT","i":13,"r":5,"g":9},{"c":"PT","i":14,"r":6,"g":11},{"c":"PT","i":15,"r":19,"g":6},{"c":"PT","i":16,"r":29,"g":16},{"c":"PT","i":17,"r":34,"g":34},{"c":"PT","i":18,"r":26,"g":35},{"c":"PT","i":19,"r":30,"g":53},{"c":"PT","i":20,"r":37,"g":93},{"c":"PT","i":21,"r":33,"g":94},{"c":"PT","i":22,"r":48,"g":81},{"c":"PT","i":23,"r":40,"g":47},{"c":"PT","i":24,"r":15,"g":50},{"c":"PT","i":25,"r":0,"g":17},{"c":"PT","i":26,"r":21,"g":29},{"c":"PT","i":27,"r":12,"g":0},{"c":"PT","i":28,"g":6},{"c":"PT","i":29,"g":2},

        {"c":"MD","i":0,"g":0},{"c":"MD","i":1,"g":0},{"c":"MD","i":2,"g":0},{"c":"MD","i":3,"g":0},{"c":"MD","i":4,"r":0,"g":0},{"c":"MD","i":5,"r":0,"g":0},{"c":"MD","i":6,"r":0,"g":0},{"c":"MD","i":7,"r":0,"g":0},{"c":"MD","i":8,"r":0,"g":0},{"c":"MD","i":9,"r":0,"g":0},{"c":"MD","i":10,"r":0,"g":0},{"c":"MD","i":11,"r":0,"g":0},{"c":"MD","i":12,"r":0,"g":0},{"c":"MD","i":13,"r":0,"g":0},{"c":"MD","i":14,"r":0,"g":0},{"c":"MD","i":15,"r":0,"g":0},{"c":"MD","i":16,"r":9,"g":0},{"c":"MD","i":17,"r":11,"g":0},{"c":"MD","i":18,"r":12,"g":0},{"c":"MD","i":19,"r":27,"g":0},{"c":"MD","i":20,"r":36,"g":0},{"c":"MD","i":21,"r":31,"g":1},{"c":"MD","i":22,"r":17,"g":0},{"c":"MD","i":23,"r":11,"g":0},{"c":"MD","i":24,"r":7,"g":0},{"c":"MD","i":25,"r":10,"g":0},{"c":"MD","i":26,"r":7,"g":0},{"c":"MD","i":27,"r":10,"g":0},{"c":"MD","i":28,"r":1,"g":0},

        {"c":"RO","i":0,"r":0,"g":9},{"c":"RO","i":1,"r":4,"g":15},{"c":"RO","i":2,"r":8,"g":26},{"c":"RO","i":3,"r":8,"g":27},{"c":"RO","i":4,"r":8,"g":24},{"c":"RO","i":5,"r":8,"g":19},{"c":"RO","i":6,"r":8,"g":22},{"c":"RO","i":7,"r":11,"g":15},{"c":"RO","i":8,"r":10,"g":16},{"c":"RO","i":9,"r":9,"g":22},{"c":"RO","i":10,"r":9,"g":16},{"c":"RO","i":11,"r":12,"g":16},{"c":"RO","i":12,"r":5,"g":14},{"c":"RO","i":13,"r":6,"g":16},{"c":"RO","i":14,"r":12,"g":16},{"c":"RO","i":15,"r":16,"g":20},{"c":"RO","i":16,"r":19,"g":32},{"c":"RO","i":17,"r":18,"g":28},{"c":"RO","i":18,"r":27,"g":36},{"c":"RO","i":19,"r":34,"g":22},{"c":"RO","i":20,"r":27,"g":34},{"c":"RO","i":21,"r":31,"g":23},{"c":"RO","i":22,"r":38,"g":26},{"c":"RO","i":23,"r":47,"g":22},{"c":"RO","i":24,"r":27,"g":20},{"c":"RO","i":25,"g":16},{"c":"RO","i":26,"r":34,"g":11},{"c":"RO","i":27,"r":26,"g":11},{"c":"RO","i":28,"r":7,"g":9},{"c":"RO","i":29,"g":9},

        {"c":"RU","i":0,"r":0,"g":0},{"c":"RU","i":1,"r":1,"g":0},{"c":"RU","i":2,"r":0,"g":0},{"c":"RU","i":3,"r":1,"g":0},{"c":"RU","i":4,"r":1,"g":0},{"c":"RU","i":5,"r":0,"g":0},{"c":"RU","i":6,"r":1,"g":0},{"c":"RU","i":7,"r":1,"g":0},{"c":"RU","i":8,"r":1,"g":0},{"c":"RU","i":9,"r":1,"g":0},{"c":"RU","i":10,"r":1,"g":0},{"c":"RU","i":11,"r":1,"g":0},{"c":"RU","i":12,"r":1,"g":0},{"c":"RU","i":13,"r":0,"g":0},{"c":"RU","i":14,"r":1,"g":0},{"c":"RU","i":15,"r":1,"g":1},{"c":"RU","i":16,"r":3,"g":2},{"c":"RU","i":17,"r":8,"g":2},{"c":"RU","i":18,"r":18,"g":3},{"c":"RU","i":19,"r":27,"g":3},{"c":"RU","i":20,"r":31,"g":4},{"c":"RU","i":21,"r":31,"g":6},{"c":"RU","i":22,"r":22,"g":4},{"c":"RU","i":23,"r":23,"g":6},{"c":"RU","i":24,"r":17,"g":6},{"c":"RU","i":25,"r":13,"g":7},{"c":"RU","i":26,"r":7,"g":5},{"c":"RU","i":27,"r":5,"g":4},{"c":"RU","i":28,"r":4,"g":3},

        {"c":"RS","i":0,"r":8,"g":13},{"c":"RS","i":1,"r":13,"g":11},{"c":"RS","i":2,"r":14,"g":19},{"c":"RS","i":3,"r":16,"g":20},{"c":"RS","i":4,"r":19,"g":22},{"c":"RS","i":5,"r":18,"g":22},{"c":"RS","i":6,"r":16,"g":23},{"c":"RS","i":7,"r":20,"g":28},{"c":"RS","i":8,"r":19,"g":28},{"c":"RS","i":9,"r":21,"g":21},{"c":"RS","i":10,"r":21,"g":24},{"c":"RS","i":11,"r":21,"g":17},{"c":"RS","i":12,"r":18,"g":15},{"c":"RS","i":13,"r":13,"g":20},{"c":"RS","i":14,"r":16,"g":19},{"c":"RS","i":15,"r":19,"g":22},{"c":"RS","i":16,"r":25,"g":22},{"c":"RS","i":17,"r":41,"g":17},{"c":"RS","i":18,"r":67,"g":12},{"c":"RS","i":19,"r":92,"g":16},{"c":"RS","i":20,"r":100,"g":20},{"c":"RS","i":21,"r":90,"g":32},{"c":"RS","i":22,"r":76,"g":56},{"c":"RS","i":23,"r":62,"g":51},{"c":"RS","i":24,"r":45,"g":41},{"c":"RS","i":25,"r":35,"g":37},{"c":"RS","i":26,"r":28,"g":20},{"c":"RS","i":27,"r":17,"g":14},{"c":"RS","i":28,"r":12,"g":13},{"c":"RS","i":29,"g":13},

        {"c":"SK","i":0,"r":24,"g":26},{"c":"SK","i":1,"r":23,"g":27},{"c":"SK","i":2,"r":22,"g":31},{"c":"SK","i":3,"r":23,"g":26},{"c":"SK","i":4,"r":19,"g":24},{"c":"SK","i":5,"r":22,"g":25},{"c":"SK","i":6,"r":20,"g":23},{"c":"SK","i":7,"r":22,"g":27},{"c":"SK","i":8,"r":21,"g":27},{"c":"SK","i":9,"r":23,"g":27},{"c":"SK","i":10,"r":26,"g":30},{"c":"SK","i":11,"r":28,"g":23},{"c":"SK","i":12,"r":14,"g":16},{"c":"SK","i":13,"r":15,"g":16},{"c":"SK","i":14,"r":31,"g":24},{"c":"SK","i":15,"r":38,"g":25},{"c":"SK","i":16,"r":57,"g":26},{"c":"SK","i":17,"r":86,"g":31},{"c":"SK","i":18,"r":100,"g":38},{"c":"SK","i":19,"g":43},{"c":"SK","i":20,"r":100,"g":38},{"c":"SK","i":21,"r":71,"g":38},{"c":"SK","i":22,"r":48,"g":34},{"c":"SK","i":23,"r":44,"g":35},{"c":"SK","i":24,"r":40,"g":42},{"c":"SK","i":25,"r":29,"g":46},{"c":"SK","i":26,"r":22,"g":36},{"c":"SK","i":27,"r":21,"g":30},{"c":"SK","i":28,"r":18,"g":29},{"c":"SK","i":29,"g":27},

        {"c":"SI","i":0,"r":0,"g":0},{"c":"SI","i":1,"r":0,"g":0},{"c":"SI","i":2,"r":0,"g":0},{"c":"SI","i":3,"r":0,"g":0},{"c":"SI","i":4,"r":0,"g":0},{"c":"SI","i":5,"r":0,"g":0},{"c":"SI","i":6,"r":0,"g":0},{"c":"SI","i":7,"r":1,"g":0},{"c":"SI","i":8,"r":0,"g":0},{"c":"SI","i":9,"r":1,"g":5},{"c":"SI","i":10,"r":2,"g":4},{"c":"SI","i":11,"r":2,"g":3},{"c":"SI","i":12,"r":3,"g":0},{"c":"SI","i":13,"r":4,"g":1},{"c":"SI","i":14,"r":14,"g":5},{"c":"SI","i":15,"r":19,"g":2},{"c":"SI","i":16,"r":28,"g":7},{"c":"SI","i":17,"r":60,"g":11},{"c":"SI","i":18,"r":33,"g":5},{"c":"SI","i":19,"r":45,"g":25},{"c":"SI","i":20,"r":96,"g":14},{"c":"SI","i":21,"r":64,"g":47},{"c":"SI","i":22,"r":40,"g":42},{"c":"SI","i":23,"r":28,"g":32},{"c":"SI","i":24,"r":27,"g":19},{"c":"SI","i":25,"r":18,"g":16},{"c":"SI","i":26,"r":7,"g":11},{"c":"SI","i":27,"r":12,"g":1},{"c":"SI","i":28,"r":3,"g":4},{"c":"SI","i":29,"g":4},

        {"c":"ES","i":0,"r":5,"g":5},{"c":"ES","i":1,"r":3,"g":5},{"c":"ES","i":2,"r":5,"g":7},{"c":"ES","i":3,"r":6,"g":8},{"c":"ES","i":4,"r":5,"g":8},{"c":"ES","i":5,"r":8,"g":9},{"c":"ES","i":6,"r":8,"g":10},{"c":"ES","i":7,"r":7,"g":10},{"c":"ES","i":8,"r":8,"g":11},{"c":"ES","i":9,"r":7,"g":8},{"c":"ES","i":10,"r":9,"g":12},{"c":"ES","i":11,"r":11,"g":18},{"c":"ES","i":12,"r":10,"g":25},{"c":"ES","i":13,"r":9,"g":21},{"c":"ES","i":14,"r":19,"g":38},{"c":"ES","i":15,"r":37,"g":56},{"c":"ES","i":16,"r":60,"g":76},{"c":"ES","i":17,"r":79,"g":84},{"c":"ES","i":18,"r":85,"g":96},{"c":"ES","i":19,"r":90,"g":97},{"c":"ES","i":20,"r":90,"g":78},{"c":"ES","i":21,"r":66,"g":54},{"c":"ES","i":22,"r":66,"g":32},{"c":"ES","i":23,"r":43,"g":22},{"c":"ES","i":24,"r":35,"g":14},{"c":"ES","i":25,"r":14,"g":9},{"c":"ES","i":26,"r":11,"g":7},{"c":"ES","i":27,"r":8,"g":6},{"c":"ES","i":28,"r":7,"g":6},{"c":"ES","i":29,"g":6},

        {"c":"SE","i":0,"r":2,"g":1},{"c":"SE","i":1,"r":4,"g":4},{"c":"SE","i":2,"r":4,"g":5},{"c":"SE","i":3,"r":6,"g":9},{"c":"SE","i":4,"r":8,"g":4},{"c":"SE","i":5,"r":2,"g":14},{"c":"SE","i":6,"r":5,"g":10},{"c":"SE","i":7,"r":5,"g":17},{"c":"SE","i":8,"r":2,"g":7},{"c":"SE","i":9,"r":8,"g":9},{"c":"SE","i":10,"r":8,"g":24},{"c":"SE","i":11,"r":16,"g":16},{"c":"SE","i":12,"r":5,"g":11},{"c":"SE","i":13,"r":17,"g":9},{"c":"SE","i":14,"r":23,"g":9},{"c":"SE","i":15,"r":22,"g":9},{"c":"SE","i":16,"r":29,"g":17},{"c":"SE","i":17,"r":37,"g":16},{"c":"SE","i":18,"r":55,"g":19},{"c":"SE","i":19,"r":41,"g":38},{"c":"SE","i":20,"r":48,"g":77},{"c":"SE","i":21,"r":33,"g":62},{"c":"SE","i":22,"r":32,"g":62},{"c":"SE","i":23,"r":32,"g":49},{"c":"SE","i":24,"r":25,"g":28},{"c":"SE","i":25,"r":20,"g":22},{"c":"SE","i":26,"r":14,"g":30},{"c":"SE","i":27,"r":9,"g":11},{"c":"SE","i":28,"r":11,"g":11},{"c":"SE","i":29,"g":9},

        {"c":"CH","i":0,"r":2,"g":4},{"c":"CH","i":1,"r":4,"g":4},{"c":"CH","i":2,"r":3,"g":5},{"c":"CH","i":3,"r":4,"g":6},{"c":"CH","i":4,"r":4,"g":5},{"c":"CH","i":5,"r":4,"g":6},{"c":"CH","i":6,"r":4,"g":5},{"c":"CH","i":7,"r":4,"g":5},{"c":"CH","i":8,"r":5,"g":5},{"c":"CH","i":9,"r":6,"g":7},{"c":"CH","i":10,"r":7,"g":7},{"c":"CH","i":11,"r":10,"g":6},{"c":"CH","i":12,"r":12,"g":5},{"c":"CH","i":13,"r":20,"g":8},{"c":"CH","i":14,"r":29,"g":9},{"c":"CH","i":15,"r":41,"g":13},{"c":"CH","i":16,"r":59,"g":12},{"c":"CH","i":17,"r":83,"g":17},{"c":"CH","i":18,"r":97,"g":20},{"c":"CH","i":19,"r":76,"g":31},{"c":"CH","i":20,"r":66,"g":42},{"c":"CH","i":21,"r":50,"g":45},{"c":"CH","i":22,"r":44,"g":33},{"c":"CH","i":23,"r":20,"g":28},{"c":"CH","i":24,"r":18,"g":20},{"c":"CH","i":25,"r":9,"g":16},{"c":"CH","i":26,"r":6,"g":9},{"c":"CH","i":27,"r":6,"g":7},{"c":"CH","i":28,"r":2,"g":2},

        {"c":"MK","i":0,"r":1},{"c":"MK","i":1,"r":1},{"c":"MK","i":2,"r":1},{"c":"MK","i":3,"r":2},{"c":"MK","i":4,"r":1},{"c":"MK","i":5,"r":2},{"c":"MK","i":6,"r":2},{"c":"MK","i":7,"r":3},{"c":"MK","i":8,"r":2},{"c":"MK","i":9,"r":3},{"c":"MK","i":10,"r":4},{"c":"MK","i":11,"r":2},{"c":"MK","i":12,"r":4},{"c":"MK","i":13,"r":5},{"c":"MK","i":14,"r":9},{"c":"MK","i":15,"r":24},{"c":"MK","i":16,"r":57},{"c":"MK","i":17,"r":72},{"c":"MK","i":18,"r":79},{"c":"MK","i":19,"r":85},{"c":"MK","i":20,"r":97},{"c":"MK","i":21,"r":74},{"c":"MK","i":22,"r":78},{"c":"MK","i":23,"r":66},{"c":"MK","i":24,"r":55},{"c":"MK","i":25,"r":44},{"c":"MK","i":26,"r":27},{"c":"MK","i":27,"r":16},{"c":"MK","i":28,"r":7},

        {"c":"TR","i":0,"r":44,"g":15},{"c":"TR","i":1,"r":35,"g":13},{"c":"TR","i":2,"r":51,"g":15},{"c":"TR","i":3,"r":35,"g":28},{"c":"TR","i":4,"r":36,"g":14},{"c":"TR","i":5,"r":57,"g":14},{"c":"TR","i":6,"r":58,"g":24},{"c":"TR","i":7,"r":90,"g":25},{"c":"TR","i":8,"r":99,"g":28},{"c":"TR","i":9,"r":64,"g":35},{"c":"TR","i":10,"r":83,"g":18},{"c":"TR","i":11,"r":57,"g":39},{"c":"TR","i":12,"r":73,"g":16},{"c":"TR","i":13,"r":81,"g":24},{"c":"TR","i":14,"r":57,"g":38},{"c":"TR","i":15,"r":45},{"c":"TR","i":16,"r":51,"g":27},{"c":"TR","i":17,"r":51,"g":29},{"c":"TR","i":18,"r":52,"g":29},{"c":"TR","i":19,"r":45,"g":21},{"c":"TR","i":20,"r":50,"g":29},{"c":"TR","i":21,"r":59,"g":38},{"c":"TR","i":22,"r":47,"g":24},{"c":"TR","i":23,"r":21,"g":24},{"c":"TR","i":24,"r":49,"g":24},{"c":"TR","i":25,"r":42,"g":24},{"c":"TR","i":26,"r":15,"g":17},{"c":"TR","i":27,"r":19,"g":20},{"c":"TR","i":28,"r":42,"g":20},{"c":"TR","i":29,"g":20},

        {"c":"EN","i":0,"r":11,"g":15},{"c":"EN","i":1,"g":17},{"c":"EN","i":2,"r":18,"g":16},{"c":"EN","i":3,"r":11,"g":21},{"c":"EN","i":4,"r":11,"g":17},{"c":"EN","i":5,"r":12,"g":22},{"c":"EN","i":6,"r":18,"g":22},{"c":"EN","i":7,"r":21,"g":22},{"c":"EN","i":8,"r":25,"g":21},{"c":"EN","i":9,"r":36,"g":24},{"c":"EN","i":10,"r":59,"g":15},{"c":"EN","i":11,"r":69,"g":23},{"c":"EN","i":12,"r":83,"g":18},{"c":"EN","i":13,"r":74,"g":25},{"c":"EN","i":14,"r":63,"g":21},{"c":"EN","i":15,"r":35,"g":16},{"c":"EN","i":16,"r":28,"g":21},{"c":"EN","i":17,"r":32,"g":26},{"c":"EN","i":18,"r":37,"g":40},{"c":"EN","i":19,"r":56,"g":51},{"c":"EN","i":20,"r":39,"g":41},{"c":"EN","i":21,"r":38,"g":40},{"c":"EN","i":22,"r":42,"g":34},{"c":"EN","i":23,"r":29,"g":38},{"c":"EN","i":24,"g":24},{"c":"EN","i":25,"r":20,"g":23},{"c":"EN","i":26,"r":16,"g":15},{"c":"EN","i":27,"r":14,"g":12},{"c":"EN","i":28,"r":14,"g":14},{"c":"EN","i":29,"g":11},

        {"c":"NI","i":0,"r":9,"g":15},{"c":"NI","i":1,"r":16,"g":19},{"c":"NI","i":2,"r":13,"g":18},{"c":"NI","i":3,"r":14,"g":15},{"c":"NI","i":4,"r":11,"g":15},{"c":"NI","i":5,"r":10,"g":21},{"c":"NI","i":6,"r":10,"g":20},{"c":"NI","i":7,"r":11,"g":21},{"c":"NI","i":8,"r":12,"g":13},{"c":"NI","i":9,"r":15,"g":10},{"c":"NI","i":10,"r":15,"g":19},{"c":"NI","i":11,"r":26,"g":17},{"c":"NI","i":12,"r":44,"g":21},{"c":"NI","i":13,"r":88,"g":20},{"c":"NI","i":14,"r":73,"g":26},{"c":"NI","i":15,"r":54,"g":17},{"c":"NI","i":16,"r":48,"g":17},{"c":"NI","i":17,"r":49,"g":22},{"c":"NI","i":18,"r":61,"g":27},{"c":"NI","i":19,"g":31},{"c":"NI","i":20,"r":44,"g":25},{"c":"NI","i":21,"r":46,"g":31},{"c":"NI","i":22,"r":47,"g":34},{"c":"NI","i":23,"r":45,"g":37},{"c":"NI","i":24,"r":33,"g":25},{"c":"NI","i":25,"r":38,"g":21},{"c":"NI","i":26,"r":26,"g":17},{"c":"NI","i":27,"r":42,"g":16},{"c":"NI","i":28,"r":26,"g":21},{"c":"NI","i":29,"g":14},

        {"c":"SC","i":0,"r":18,"g":13},{"c":"SC","i":1,"r":13,"g":10},{"c":"SC","i":2,"r":11,"g":15},{"c":"SC","i":3,"r":14,"g":17},{"c":"SC","i":4,"r":16,"g":15},{"c":"SC","i":5,"r":23,"g":18},{"c":"SC","i":6,"r":17,"g":25},{"c":"SC","i":7,"r":17,"g":29},{"c":"SC","i":8,"r":14,"g":21},{"c":"SC","i":9,"r":19,"g":20},{"c":"SC","i":10,"r":20,"g":23},{"c":"SC","i":11,"r":34,"g":17},{"c":"SC","i":12,"r":63,"g":16},{"c":"SC","i":13,"r":80,"g":24},{"c":"SC","i":14,"r":89,"g":25},{"c":"SC","i":15,"r":56,"g":21},{"c":"SC","i":16,"r":68,"g":18},{"c":"SC","i":17,"r":74,"g":20},{"c":"SC","i":18,"r":67,"g":22},{"c":"SC","i":19,"r":67,"g":20},{"c":"SC","i":20,"r":42,"g":23},{"c":"SC","i":21,"r":43,"g":19},{"c":"SC","i":22,"r":41,"g":26},{"c":"SC","i":23,"r":31,"g":31},{"c":"SC","i":24,"r":31,"g":21},{"c":"SC","i":25,"r":24,"g":20},{"c":"SC","i":26,"r":25,"g":20},{"c":"SC","i":27,"r":26,"g":21},{"c":"SC","i":28,"r":30,"g":23},{"c":"SC","i":29,"g":21},

        {"c":"WA","i":0,"r":9,"g":12},{"c":"WA","i":1,"r":18,"g":20},{"c":"WA","i":2,"r":18,"g":12},{"c":"WA","i":3,"r":12,"g":6},{"c":"WA","i":4,"r":15,"g":8},{"c":"WA","i":5,"r":10,"g":18},{"c":"WA","i":6,"r":6,"g":19},{"c":"WA","i":7,"r":17,"g":14},{"c":"WA","i":8,"r":12,"g":16},{"c":"WA","i":9,"r":17,"g":21},{"c":"WA","i":10,"r":25,"g":23},{"c":"WA","i":11,"r":48},{"c":"WA","i":12,"g":20},{"c":"WA","i":13,"r":83,"g":27},{"c":"WA","i":14,"r":65,"g":18},{"c":"WA","i":15,"r":29,"g":12},{"c":"WA","i":16,"g":14},{"c":"WA","i":17,"g":12},{"c":"WA","i":18,"g":24},{"c":"WA","i":19,"g":13},{"c":"WA","i":20,"g":29},{"c":"WA","i":21,"g":11},{"c":"WA","i":22,"r":46,"g":15},{"c":"WA","i":23,"g":20},{"c":"WA","i":24,"g":13},{"c":"WA","i":25,"r":25,"g":14},{"c":"WA","i":26,"r":13,"g":13},{"c":"WA","i":27,"r":18,"g":14},{"c":"WA","i":28,"r":19,"g":6},{"c":"WA","i":29,"g":7},

        {"c":"UA","i":0,"r":7,"g":6},{"c":"UA","i":1,"r":6,"g":5},{"c":"UA","i":2,"r":7,"g":6},{"c":"UA","i":3,"r":7,"g":6},{"c":"UA","i":4,"r":7,"g":6},{"c":"UA","i":5,"r":8,"g":6},{"c":"UA","i":6,"r":8,"g":6},{"c":"UA","i":7,"r":8,"g":6},{"c":"UA","i":8,"r":8,"g":6},{"c":"UA","i":9,"r":8,"g":6},{"c":"UA","i":10,"r":8,"g":6},{"c":"UA","i":11,"r":9,"g":7},{"c":"UA","i":12,"r":9,"g":7},{"c":"UA","i":13,"r":9,"g":7},{"c":"UA","i":14,"r":9,"g":7},{"c":"UA","i":15,"r":9,"g":7},{"c":"UA","i":16,"r":9,"g":7},{"c":"UA","i":17,"r":9,"g":7},{"c":"UA","i":18,"r":9,"g":7},{"c":"UA","i":19,"r":9,"g":7},{"c":"UA","i":20,"r":8,"g":6},{"c":"UA","i":21,"r":8,"g":6},{"c":"UA","i":22,"r":8,"g":6},{"c":"UA","i":23,"r":8,"g":6},{"c":"UA","i":24,"r":7,"g":6},{"c":"UA","i":25,"r":7,"g":6},{"c":"UA","i":26,"r":7,"g":5},{"c":"UA","i":27,"r":7,"g":5},{"c":"UA","i":28,"r":7,"g":5},

        {"c":"UZ","i":0,"r":57,"g":26},{"c":"UZ","i":1,"r":42,"g":37},{"c":"UZ","i":2,"r":42,"g":40},{"c":"UZ","i":3,"r":43,"g":38},{"c":"UZ","i":4,"r":43,"g":46},{"c":"UZ","i":5,"r":41,"g":52},{"c":"UZ","i":6,"r":45,"g":55},{"c":"UZ","i":7,"r":50,"g":55},{"c":"UZ","i":8,"r":53,"g":57},{"c":"UZ","i":9,"r":57,"g":54},{"c":"UZ","i":10,"r":64,"g":62},{"c":"UZ","i":11,"r":79,"g":64},{"c":"UZ","i":12,"r":66,"g":52},{"c":"UZ","i":13,"r":57,"g":53},{"c":"UZ","i":14,"r":77,"g":61},{"c":"UZ","i":15,"r":82,"g":60},{"c":"UZ","i":16,"r":87,"g":61},{"c":"UZ","i":17,"r":84,"g":71},{"c":"UZ","i":18,"r":88,"g":86},{"c":"UZ","i":19,"r":85,"g":79},{"c":"UZ","i":20,"r":85,"g":70},{"c":"UZ","i":21,"r":73,"g":61},{"c":"UZ","i":22,"r":56,"g":45},{"c":"UZ","i":23,"r":62,"g":55},{"c":"UZ","i":24,"r":48,"g":38},{"c":"UZ","i":25,"r":47,"g":42},{"c":"UZ","i":26,"r":48,"g":38},{"c":"UZ","i":27,"r":48,"g":37},{"c":"UZ","i":28,"r":47,"g":33},{"c":"UZ","i":29,"g":36},

        {"c":"EU","i":4,"kb":0,"kr":0,"p":5,"b":1},{"c":"EU","i":5,"kb":0,"kr":0,"p":4,"b":1},{"c":"EU","i":6,"kb":0,"kr":0,"p":4,"b":1},{"c":"EU","i":7,"kb":1,"kr":2,"p":8,"b":1},{"c":"EU","i":8,"kb":2,"kr":4,"p":13,"b":2,"g":1},{"c":"EU","i":9,"kb":12,"kr":14,"p":24,"b":3,"g":2},{"c":"EU","i":10,"kb":19,"kr":22,"p":34,"b":5,"g":3},{"c":"EU","i":11,"kb":14,"kr":23,"p":43,"b":9,"g":3},{"c":"EU","i":12,"kb":26,"kr":26,"p":50,"b":10,"g":1},{"c":"EU","i":13,"kb":57,"kr":37,"p":53,"b":10,"g":7},{"c":"EU","i":14,"kb":74,"kr":47,"p":54,"b":15,"g":20},{"c":"EU","i":15,"kb":100,"kr":70,"p":63,"b":22,"g":33},{"c":"EU","i":16,"kb":100,"kr":77,"p":68,"b":29,"g":38},{"c":"EU","i":17,"kb":100,"kr":95,"p":68,"b":33,"g":34},{"c":"EU","i":18,"kb":100,"kr":100,"p":69,"b":32,"g":25},{"c":"EU","i":19,"kb":85,"kr":100,"p":68,"b":25,"g":23},{"c":"EU","i":20,"kb":67,"kr":80,"p":64,"b":28,"g":17},{"c":"EU","i":21,"kb":52,"kr":75,"p":64,"b":23,"g":13},{"c":"EU","i":22,"kb":51,"kr":66,"p":54,"b":17,"g":5},{"c":"EU","i":23,"kb":32,"kr":48,"p":55,"b":9,"g":3},{"c":"EU","i":24,"kb":24,"kr":41,"p":47,"b":6,"g":2},{"c":"EU","i":25,"kb":14,"kr":24,"p":41,"b":4,"g":1},{"c":"EU","i":26,"kb":9,"kr":20,"p":36,"b":3,"g":1},{"c":"EU","i":27,"kb":4,"kr":13,"p":27,"b":1,"g":1},{"c":"EU","i":28,"kb":2,"kr":6,"p":13,"b":1}
      ]},
      "facet": {
        "field": "c", "type": "nominal", "title": null,
        "sort": ["AL","AM","AT","AZ","BY","BE","BA","BG","HR","CY","CZ","DK","EE","FI","FR","GE","DE","GR","HU","IS","IE","IL","IT","KZ","KG","LV","LT","LU","MT","ME","NL","NO","PL","PT","MD","RO","RU","RS","SK","SI","ES","SE","CH","MK","TR","EN","NI","SC","WA","UA","UZ","EU"],
        "header": {"title": null, "labels": false, "labelFontSize": 0, "labelPadding": 0}
      },
      "columns": 2,
      "bounds": "flush",
      "spacing": {"row": 8.6, "column": 9},
      "resolve": {"axis": {"x": "independent", "y": "independent"}},
      "spec": {
        "width": 348,
        "height": 142,
        "layer": [
          {
            "mark": {"type": "rule", "color": "#00a000", "strokeWidth": 3, "strokeDash": [3, 3]},
            "encoding": {
              "y": {"field": "th", "type": "quantitative", "title": null, "scale": {"domain": [0, 100], "nice": false}}
            }
          },
          {
            "mark": {"type": "bar", "color": "#ff0000", "size": 6, "xOffset": 6},
            "encoding": {
              "x": {"field": "i", "type": "quantitative", "title": null, "scale": {"domain": [-0.15, 28.9], "nice": false, "zero": false}},
              "y": {"field": "ft", "type": "quantitative", "title": null, "scale": {"domain": [0, 100], "nice": false}}
            }
          },
          {
            "mark": {"type": "bar", "color": "#0000ff", "size": 6, "xOffset": 6},
            "encoding": {
              "x": {"field": "i", "type": "quantitative", "title": null, "scale": {"domain": [-0.15, 28.9], "nice": false, "zero": false}},
              "y": {"field": "fb", "type": "quantitative", "title": null, "scale": {"domain": [0, 100], "nice": false}}
            }
          },
          {
            "mark": {"type": "bar", "color": "#000000", "size": 5, "xOffset": -2.5, "clip": true},
            "encoding": {
              "x": {"field": "i", "type": "quantitative", "title": null, "scale": {"domain": [-0.15, 28.9], "nice": false, "zero": false}},
              "y": {"field": "kb", "type": "quantitative", "title": null, "scale": {"domain": [0, 100], "nice": false}}
            }
          },
          {
            "mark": {"type": "bar", "color": "#ff0000", "size": 5, "xOffset": 2.5, "clip": true},
            "encoding": {
              "x": {"field": "i", "type": "quantitative", "title": null, "scale": {"domain": [-0.15, 28.9], "nice": false, "zero": false}},
              "y": {"field": "kr", "type": "quantitative", "title": null, "scale": {"domain": [0, 100], "nice": false}}
            }
          },
          {
            "transform": [{"filter": "isValid(datum.i)"}],
            "mark": {"type": "line", "color": "#bdbdbd", "strokeWidth": 1, "clip": true},
            "encoding": {
              "x": {"field": "i", "type": "quantitative", "title": null, "scale": {"domain": [-0.15, 28.9], "nice": false, "zero": false}},
              "y": {"field": "g", "type": "quantitative", "title": null, "scale": {"domain": [0, 100], "nice": false}}
            }
          },
          {
            "transform": [{"filter": "isValid(datum.i) && isValid(datum.g)"}],
            "mark": {"type": "point", "shape": "square", "filled": false, "size": 18, "color": "#bdbdbd", "strokeWidth": 1, "opacity": 1, "clip": true},
            "encoding": {
              "x": {"field": "i", "type": "quantitative", "title": null, "scale": {"domain": [-0.15, 28.9], "nice": false, "zero": false}},
              "y": {"field": "g", "type": "quantitative", "title": null, "scale": {"domain": [0, 100], "nice": false}}
            }
          },
          {
            "transform": [{"filter": "isValid(datum.i)"}],
            "mark": {"type": "line", "color": "#000000", "strokeWidth": 1, "strokeDash": [3, 2], "clip": true},
            "encoding": {
              "x": {"field": "i", "type": "quantitative", "title": null, "scale": {"domain": [-0.15, 28.9], "nice": false, "zero": false}},
              "y": {"field": "p", "type": "quantitative", "title": null, "scale": {"domain": [0, 100], "nice": false}}
            }
          },
          {
            "transform": [{"filter": "isValid(datum.p)"}],
            "mark": {"type": "point", "shape": "square", "filled": true, "size": 30, "color": "#ffffff", "stroke": "#000000", "strokeWidth": 1.2, "opacity": 1},
            "encoding": {
              "x": {"field": "i", "type": "quantitative", "title": null, "scale": {"domain": [-0.15, 28.9], "nice": false, "zero": false}},
              "y": {"field": "p", "type": "quantitative", "title": null, "scale": {"domain": [0, 100], "nice": false}}
            }
          },
          {
            "transform": [{"filter": "isValid(datum.i)"}],
            "mark": {"type": "line", "color": "#0000ff", "strokeWidth": 1.5, "clip": true},
            "encoding": {
              "x": {"field": "i", "type": "quantitative", "title": null, "scale": {"domain": [-0.15, 28.9], "nice": false, "zero": false}},
              "y": {"field": "b", "type": "quantitative", "title": null, "scale": {"domain": [0, 100], "nice": false}}
            }
          },
          {
            "transform": [{"filter": "isValid(datum.i)"}],
            "mark": {"type": "line", "color": "#ff0000", "strokeWidth": 1, "clip": true},
            "encoding": {
              "x": {
                "field": "i", "type": "quantitative", "title": null,
                "scale": {"domain": [-0.15, 28.9], "nice": false, "zero": false},
                "axis": {"values": [0,1,2,3,4,5,6,7,8,9,10,11,12,13,14,15,16,17,18,19,20,21,22,23,24,25,26,27,28], "labelExpr": "datum.value % 2 ? '' : '' + (datum.value <= 12 ? 40 + datum.value : datum.value - 12)", "tickSize": 8, "tickWidth": 1.2, "domainWidth": 1.5, "labelPadding": 1, "labelOverlap": false, "labelFlush": false, "grid": true}
              },
              "y": {
                "field": "r", "type": "quantitative", "title": null,
                "scale": {"domain": [0, 100], "nice": false},
                "axis": {"values": [0, 16.67, 33.33, 50, 66.67, 83.33, 100], "labels": false, "tickSize": 5, "domainWidth": 1.5, "grid": true}
              }
            }
          },
          {
            "transform": [{"filter": "isValid(datum.i) && isValid(datum.r)"}],
            "mark": {"type": "point", "shape": "square", "filled": false, "size": 22, "color": "#ff0000", "strokeWidth": 1.2, "opacity": 1, "clip": true},
            "encoding": {
              "x": {"field": "i", "type": "quantitative", "title": null, "scale": {"domain": [-0.15, 28.9], "nice": false, "zero": false}},
              "y": {"field": "r", "type": "quantitative", "title": null, "scale": {"domain": [0, 100], "nice": false}}
            }
          },
          {
            "mark": {"type": "text", "align": "left", "baseline": "middle", "fontSize": 14, "font": "DejaVu Sans Mono", "color": "#000", "lineBreak": "\n", "lineHeight": 17},
            "encoding": {
              "x": {"field": "lx", "type": "quantitative", "title": null, "scale": {"domain": [-0.15, 28.9], "nice": false, "zero": false}},
              "y": {"field": "ly", "type": "quantitative", "title": null, "scale": {"domain": [0, 100], "nice": false}},
              "text": {"field": "t"}
            }
          }
        ]
      }
    },
    {
      "width": 410,
      "height": 140,
      "data": {"values": [
        {"w":0,"rsv":0,"rp":0,"flu":1,"fp":0},{"w":1,"rsv":5,"rp":4,"flu":1,"fp":0},{"w":2,"rsv":8,"rp":5,"flu":1,"fp":0},{"w":3,"rsv":13,"rp":8,"flu":0,"fp":0},{"w":4,"rsv":24,"rp":10,"flu":1,"fp":0},{"w":5,"rsv":30,"rp":13,"flu":1,"fp":0},{"w":6,"rsv":41,"rp":24,"flu":1,"fp":0},{"w":7,"rsv":48,"rp":36,"flu":2,"fp":1},{"w":8,"rsv":68,"rp":47,"flu":2,"fp":1},{"w":9,"rsv":76,"rp":56,"flu":4,"fp":2},{"w":10,"rsv":83,"rp":57,"flu":9,"fp":2},{"w":11,"rsv":92,"rp":64,"flu":17,"fp":3},{"w":12,"rsv":72,"rp":69,"flu":21,"fp":4},{"w":13,"rsv":68,"rp":63,"flu":36,"fp":6},{"w":14,"rsv":57,"rp":47,"flu":45,"fp":8},{"w":15,"rsv":44,"rp":38,"flu":47,"fp":11},{"w":16,"rsv":46,"rp":38,"flu":64,"fp":17},{"w":17,"rsv":49,"rp":38,"flu":82,"fp":24},{"w":18,"rsv":43,"rp":32,"flu":89,"fp":32},{"w":19,"rsv":39,"rp":33,"flu":90,"fp":40},{"w":20,"rsv":38,"rp":31,"flu":87,"fp":51},{"w":21,"rsv":29,"rp":28,"flu":79,"fp":52},{"w":22,"rsv":23,"rp":25,"flu":71,"fp":41},{"w":23,"rsv":19,"rp":20,"flu":57,"fp":38},{"w":24,"rsv":15,"rp":18,"flu":46,"fp":31},{"w":25,"rsv":12,"rp":12,"flu":32,"fp":24},{"w":26,"rsv":11,"rp":11,"flu":26,"fp":16},{"w":27,"rsv":9,"rp":10,"flu":23,"fp":13},{"w":28,"rsv":6,"rp":7,"flu":15,"fp":8},{"w":29,"rsv":4,"rp":5,"flu":7,"fp":5},{"w":30,"rsv":3,"rp":3,"flu":4,"fp":3},
        {"lx":2,"ly":55,"t":"Europe"},{"lx":7,"ly":82,"t":"RSV"},{"lx":17.5,"ly":77,"t":"flu"}
      ]},
      "layer": [
        {
          "transform": [{"filter": "isValid(datum.w)"}],
          "mark": {"type": "line", "color": "#bdbdbd", "strokeWidth": 1.5, "point": {"shape": "square", "filled": false, "size": 25, "color": "#bdbdbd", "opacity": 1}},
          "encoding": {
            "x": {"field": "w", "type": "quantitative", "title": null, "scale": {"domain": [-0.15, 30.6], "nice": false, "zero": false}},
            "y": {"field": "rp", "type": "quantitative", "title": null, "scale": {"domain": [0, 100], "nice": false}}
          }
        },
        {
          "transform": [{"filter": "isValid(datum.w)"}],
          "mark": {"type": "line", "color": "#bdbdbd", "strokeWidth": 1.5, "point": {"shape": "diamond", "filled": false, "size": 20, "color": "#bdbdbd", "opacity": 1}},
          "encoding": {
            "x": {"field": "w", "type": "quantitative", "title": null, "scale": {"domain": [-0.15, 30.6], "nice": false, "zero": false}},
            "y": {"field": "fp", "type": "quantitative", "title": null, "scale": {"domain": [0, 100], "nice": false}}
          }
        },
        {
          "transform": [{"filter": "isValid(datum.w)"}],
          "mark": {"type": "line", "color": "#0000ff", "strokeWidth": 1, "strokeDash": [2, 2], "point": {"shape": "diamond", "filled": false, "size": 20, "color": "#0000ff", "opacity": 1}},
          "encoding": {
            "x": {"field": "w", "type": "quantitative", "title": null, "scale": {"domain": [-0.15, 30.6], "nice": false, "zero": false}},
            "y": {"field": "flu", "type": "quantitative", "title": null, "scale": {"domain": [0, 100], "nice": false}}
          }
        },
        {
          "transform": [{"filter": "isValid(datum.w)"}],
          "mark": {"type": "line", "color": "#ff0000", "strokeWidth": 1, "strokeDash": [2, 2], "point": {"shape": "square", "filled": false, "size": 35, "color": "#ff0000", "strokeWidth": 1.3, "opacity": 1}},
          "encoding": {
            "x": {
              "field": "w", "type": "quantitative", "title": null,
              "scale": {"domain": [-0.15, 30.6], "nice": false, "zero": false},
              "axis": {"values": [0,1,2,3,4,5,6,7,8,9,10,11,12,13,14,15,16,17,18,19,20,21,22,23,24,25,26,27,28,29,30], "labelExpr": "datum.value % 2 ? '' : '' + (datum.value <= 12 ? 40 + datum.value : datum.value - 12)", "tickSize": 8, "domainWidth": 1.5, "labelPadding": 1, "labelOverlap": false, "labelFlush": false, "grid": false}
            },
            "y": {
              "field": "rsv", "type": "quantitative", "title": null,
              "scale": {"domain": [0, 100], "nice": false},
              "axis": {"values": [0, 16.67, 33.33, 50, 66.67, 83.33], "labels": false, "tickSize": 5, "domainWidth": 1.5, "grid": true, "gridDash": [], "gridColor": "#dcdcdc"}
            }
          }
        },
        {
          "mark": {"type": "text", "align": "left", "baseline": "middle", "fontSize": 13, "font": "DejaVu Sans Mono", "color": "#000"},
          "encoding": {
            "x": {"field": "lx", "type": "quantitative", "title": null, "scale": {"domain": [-0.15, 30.6], "nice": false, "zero": false}},
            "y": {"field": "ly", "type": "quantitative", "title": null, "scale": {"domain": [0, 100], "nice": false}},
            "text": {"field": "t"}
          }
        }
      ]
    }
  ],
  "spacing": 4
}
